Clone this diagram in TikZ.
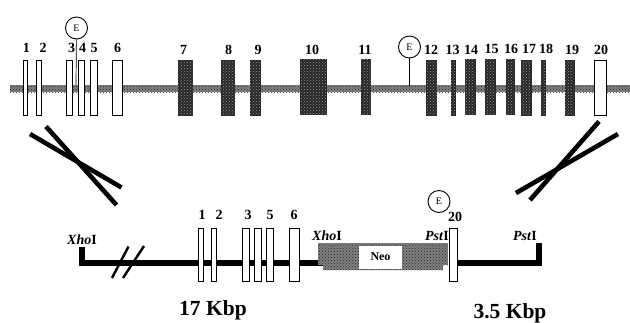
\documentclass[tikz,border=0pt]{standalone}
\usepackage{fontspec}
\usetikzlibrary{patterns}
\setmainfont{Liberation Serif}
\tikzset{
	exon/.style={draw,fill=white,line width=0.9pt,inner sep=0pt,minimum height=55pt},
	dark/.style={exon,draw=black!85,fill=black!85,postaction={pattern=crosshatch dots,pattern color=black!40}},
	low/.style={exon,minimum height=53pt},
	num/.style={inner sep=0pt,font=\bfseries\fontsize{14}{14}\selectfont},
	site/.style={inner sep=0pt,font=\bfseries\fontsize{14}{14}\selectfont},
	size/.style={inner sep=0pt,font=\bfseries\fontsize{21.5}{21.5}\selectfont},
	ring/.style={draw,circle,fill=white,line width=0.9pt,inner sep=0pt,minimum size=22pt,font=\fontsize{10}{10}\selectfont},
	halftone/.style={fill=black!50,postaction={pattern=crosshatch dots,pattern color=black!85}},
	arm/.style={line width=4.6pt},
	dna/.style={line width=5.6pt}
}
\begin{document}
\begin{tikzpicture}[x=1pt,y=-1pt]
	\useasboundingbox (0,0) rectangle (630,322);
	% upper gene
	\coordinate (gl) at (10,85);
	\coordinate (gr) at (630,92);
	\path[halftone] (gl) rectangle (gr);
	\node[name=t1,exon,minimum width=4pt] at (25,87.5){};
	\node[name=t2,exon,minimum width=5pt] at (38.5,87.5){};
	\node[name=t3,exon,minimum width=6.5pt] at (69.5,87.5){};
	\node[name=t4,exon,minimum width=6.5pt] at (81.5,87.5){};
	\node[name=t5,exon,minimum width=7pt] at (93.5,87.5){};
	\node[name=t6,exon,minimum width=10pt] at (117.5,87.5){};
	\node[name=t7,dark,minimum width=14pt] at (185.5,87.5){};
	\node[name=t8,dark,minimum width=13pt] at (228,88){};
	\node[name=t9,dark,minimum width=10pt] at (255,87.5){};
	\node[name=t10,dark,minimum width=26pt] at (313.5,87){};
	\node[name=t11,dark,minimum width=9pt] at (366,87){};
	\node[name=t12,dark,minimum width=10pt] at (431.5,87.5){};
	\node[name=t13,dark,minimum width=4pt] at (453,87.5){};
	\node[name=t14,dark,minimum width=10pt] at (470,87){};
	\node[name=t15,dark,minimum width=10pt] at (490,87){};
	\node[name=t16,dark,minimum width=8pt] at (510,87){};
	\node[name=t17,dark,minimum width=10pt] at (526,87.5){};
	\node[name=t18,dark,minimum width=4pt] at (543.5,88){};
	\node[name=t19,dark,minimum width=9pt] at (569.5,88){};
	\node[name=t20,exon,minimum width=12pt] at (600,88){};
	\node[num] at (26.5,48){1};
	\node[num] at (43,48){2};
	\node[num] at (71.5,48){3};
	\node[num] at (82.5,47.5){4};
	\node[num] at (94,47.5){5};
	\node[num] at (117.5,48){6};
	\node[num] at (183.5,50){7};
	\node[num] at (228.5,50){8};
	\node[num] at (258,49.5){9};
	\node[num] at (312,50){10};
	\node[num] at (365,50){11};
	\node[num] at (431,50){12};
	\node[num] at (452.5,50){13};
	\node[num] at (471,50){14};
	\node[num] at (491.5,49){15};
	\node[num] at (511,49){16};
	\node[num] at (529,49){17};
	\node[num] at (546,49){18};
	\node[num] at (572,49.5){19};
	\node[num] at (601,49.5){20};
	\node[name=ea,ring] at (76.5,28){E};
	\node[name=eb,ring] at (409.5,47){E};
	\coordinate (ga) at (76,85);
	\coordinate (gb) at (409.5,86);
	\draw[line width=0.7pt] (ea)--(ga);
	\draw[line width=0.7pt] (eb)--(gb);
	% crossing arms
	\coordinate (la) at (30,134);
	\coordinate (lb) at (121.5,187.5);
	\coordinate (lc) at (46,126.5);
	\coordinate (ld) at (116.5,205);
	\draw[arm] (la)--(lb);
	\draw[arm] (lc)--(ld);
	\coordinate (ra) at (599,121.5);
	\coordinate (rb) at (530,200);
	\coordinate (rc) at (618,134);
	\coordinate (rd) at (516,193);
	\draw[arm] (ra)--(rb);
	\draw[arm] (rc)--(rd);
	% targeting construct
	\coordinate (xa) at (82,247);
	\coordinate (xb) at (82,263);
	\coordinate (xc) at (325,263);
	\coordinate (pa) at (539,243);
	\coordinate (pb) at (539,263);
	\coordinate (pc) at (455,263);
	\draw[dna] (xa)--(xb)--(xc);
	\draw[dna] (pa)--(pb)--(pc);
	\coordinate (sa) at (112,278);
	\coordinate (sb) at (128.5,246.5);
	\coordinate (sc) at (123,278);
	\coordinate (sd) at (144,246);
	\draw[line width=2.4pt] (sa)--(sb);
	\draw[line width=2.4pt] (sc)--(sd);
	\coordinate (na) at (318,243);
	\coordinate (nb) at (448,265);
	\coordinate (nc) at (323,243);
	\coordinate (nd) at (443,270);
	\path[halftone] (na) rectangle (nb);
	\path[halftone] (nc) rectangle (nd);
	\node[name=neo,fill=white,inner sep=0pt,minimum width=43pt,minimum height=23pt,font=\bfseries\fontsize{12}{12}\selectfont] at (380.5,257){Neo};
	\node[name=b1,low,minimum width=5pt] at (200.5,254.5){};
	\node[name=b2,low,minimum width=5pt] at (214,254.5){};
	\node[name=b3,low,minimum width=7pt] at (245.5,254.5){};
	\node[name=b4,low,minimum width=7pt] at (257.5,254.5){};
	\node[name=b5,low,minimum width=7pt] at (269.5,254.5){};
	\node[name=b6,low,minimum width=10pt] at (294,254.5){};
	\node[name=b20,low,minimum width=8pt] at (453,254.5){};
	\node[num] at (202,215){1};
	\node[num] at (219,215){2};
	\node[num] at (248,215){3};
	\node[num] at (270,215){5};
	\node[num] at (294,215){6};
	\node[num] at (455,216.5){20};
	\node[name=ec,ring] at (439,201.5){E};
	\node[site] at (82,240){\textit{Xho}I};
	\node[site] at (327,236){\textit{Xho}I};
	\node[site] at (437,236){\textit{Pst}I};
	\node[site] at (525,236){\textit{Pst}I};
	\node[size] at (213,310){17 Kbp};
	\node[size] at (510,313){3.5 Kbp};
\end{tikzpicture}
\end{document}
